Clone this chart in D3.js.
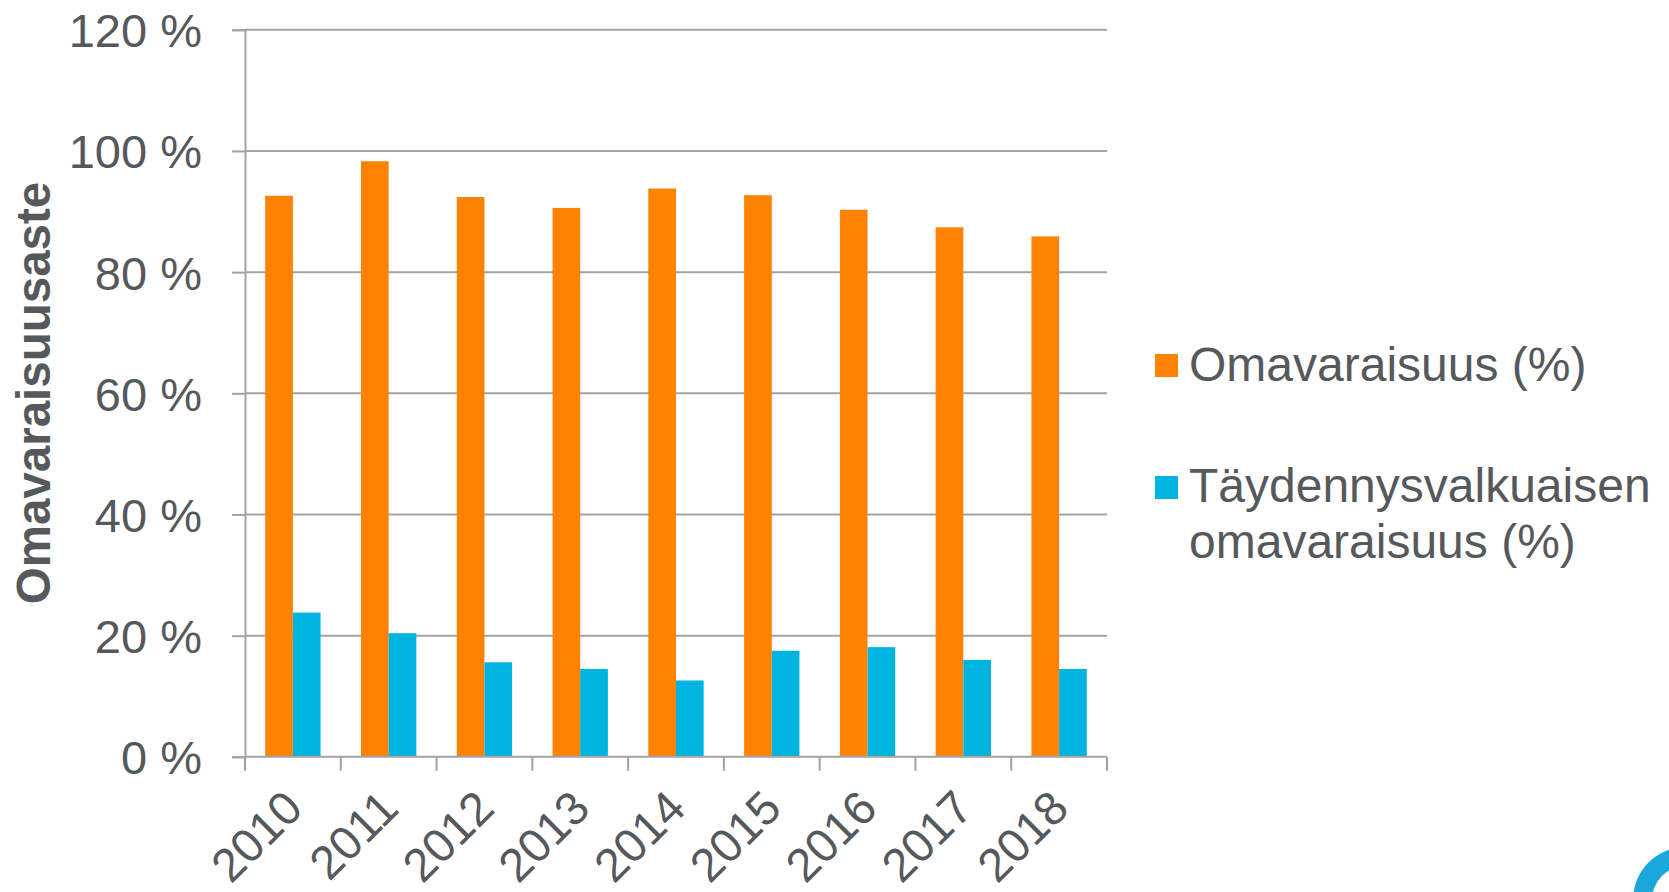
<!DOCTYPE html>
<html>
<head>
<meta charset="utf-8">
<script src="https://cdn.jsdelivr.net/npm/d3@7"></script>
<style>
  body { margin: 0; background: #fff; }
  svg { display: block; font-family: "Liberation Sans", Arial, sans-serif; }
</style>
</head>
<body>
<div id="chart"></div>
<script>
// data
var years = ["2010", "2011", "2012", "2013", "2014", "2015", "2016", "2017", "2018"];
var omavaraisuus = [92.6, 98.3, 92.4, 90.6, 93.8, 92.7, 90.3, 87.4, 85.9];
var taydennys = [23.8, 20.4, 15.6, 14.5, 12.6, 17.5, 18.1, 16.0, 14.5];
var seriesNames = ["Omavaraisuus (%)", "Täydennysvalkuaisen omavaraisuus (%)"];
var seriesColors = ["#ff8300", "#00b4e0"];
var yTicks = [0, 20, 40, 60, 80, 100, 120];

var width = 1669, height = 892;
var textColor = "#55595c", gridColor = "#a3a3a3";
var fontSize = 47;

var svg = d3.select("#chart").append("svg")
    .attr("width", width).attr("height", height);

var x0 = d3.scaleBand().domain(years).range([245, 1107]);
var bw = x0.bandwidth();
var x1 = d3.scaleBand().domain([0, 1]).range([bw * 0.211, bw * 0.789]);
var y = d3.scaleLinear().domain([0, 120]).range([756.8, 29.8]);

// gridlines
svg.append("g").selectAll("line")
  .data(yTicks.slice(1))
  .enter().append("line")
    .attr("x1", 245).attr("x2", 1107)
    .attr("y1", function(d) { return y(d); })
    .attr("y2", function(d) { return y(d); })
    .attr("stroke", gridColor).attr("stroke-width", 2);

// bars
var rows = years.map(function(yr, i) {
  return { year: yr, values: [omavaraisuus[i], taydennys[i]] };
});

var groups = svg.append("g").selectAll("g")
  .data(rows)
  .enter().append("g")
    .attr("transform", function(d) { return "translate(" + x0(d.year) + ",0)"; });

groups.selectAll("rect")
  .data(function(d) { return d.values.map(function(v, k) { return { k: k, v: v }; }); })
  .enter().append("rect")
    .attr("x", function(d) { return x1(d.k); })
    .attr("width", x1.bandwidth())
    .attr("y", function(d) { return y(d.v); })
    .attr("height", function(d) { return y(0) - y(d.v); })
    .attr("fill", function(d) { return seriesColors[d.k]; });

// y axis
var yAxis = d3.axisLeft(y)
    .tickValues(yTicks)
    .tickFormat(function(d) { return d + " %"; })
    .tickSize(13)
    .tickPadding(30);

var gy = svg.append("g")
    .attr("transform", "translate(245,0)")
    .call(yAxis);
gy.select(".domain").attr("stroke", gridColor).attr("stroke-width", 2);
gy.selectAll(".tick line").attr("stroke", gridColor).attr("stroke-width", 2);
gy.selectAll(".tick text")
    .attr("fill", textColor)
    .attr("font-size", fontSize)
    .attr("font-family", "Liberation Sans, Arial, sans-serif")
    .attr("dy", "0.36em");

// x axis
var gx = svg.append("g")
    .attr("transform", "translate(0," + y(0) + ")");
gx.append("line")
    .attr("x1", 245).attr("x2", 1107)
    .attr("stroke", gridColor).attr("stroke-width", 2);
var edges = years.map(function(yr) { return x0(yr); }).concat([1107]);
gx.selectAll(".xtick")
  .data(edges)
  .enter().append("line")
    .attr("class", "xtick")
    .attr("x1", function(d) { return d; }).attr("x2", function(d) { return d; })
    .attr("y1", 0).attr("y2", 14)
    .attr("stroke", gridColor).attr("stroke-width", 2);

gx.selectAll(".xlabel")
  .data(years)
  .enter().append("text")
    .attr("class", "xlabel")
    .attr("text-anchor", "end")
    .attr("fill", textColor)
    .attr("font-size", fontSize)
    .attr("transform", function(d) {
      return "translate(" + (x0(d) + bw / 2 + 12) + ",54) rotate(-45)";
    })
    .text(function(d) { return d; });

// y axis title
svg.append("text")
    .attr("transform", "translate(50,393) rotate(-90)")
    .attr("text-anchor", "middle")
    .attr("font-weight", "bold")
    .attr("font-size", 47.5)
    .attr("fill", textColor)
    .text("Omavaraisuusaste");

// legend
var legend = svg.append("g");
var legendItems = [
  { lines: ["Omavaraisuus (%)"], sq: 354, base: 381 },
  { lines: ["Täydennysvalkuaisen", "omavaraisuus (%)"], sq: 476, base: 502 }
];
legendItems.forEach(function(item, i) {
  legend.append("rect")
      .attr("x", 1155).attr("y", item.sq)
      .attr("width", 23).attr("height", 23)
      .attr("fill", seriesColors[i]);
  var t = legend.append("text")
      .attr("x", 1189).attr("y", item.base)
      .attr("font-size", 48)
      .attr("fill", textColor);
  item.lines.forEach(function(line, j) {
    t.append("tspan")
        .attr("x", 1189)
        .attr("dy", j === 0 ? 0 : 56)
        .text(line);
  });
});

// corner logo fragment
svg.append("path")
    .attr("transform", "translate(1686,900)")
    .attr("d", d3.arc().innerRadius(34).outerRadius(53).startAngle(-Math.PI).endAngle(Math.PI)())
    .attr("fill", "#19a7dc");
</script>
</body>
</html>
